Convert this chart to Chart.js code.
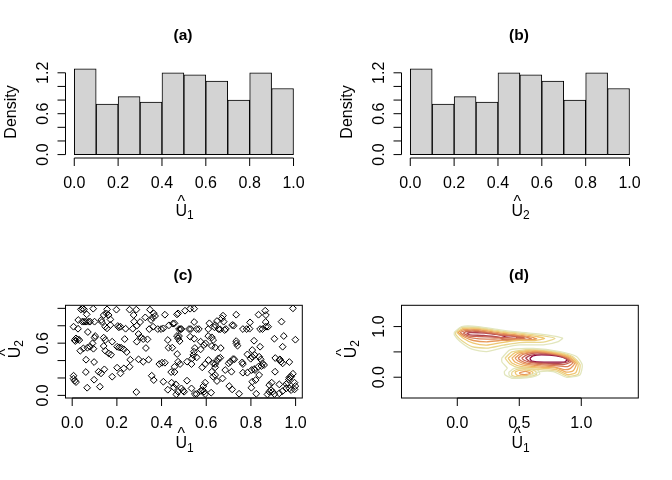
<!DOCTYPE html>
<html>
<head>
<meta charset="utf-8">
<title>Copula pseudo observations</title>
<script src="https://cdn.jsdelivr.net/npm/chart.js@4/dist/chart.umd.js"></script>
<style>
html, body { margin: 0; padding: 0; background: #fff; width: 672px; height: 480px; overflow: hidden; }
canvas { position: absolute; }
</style>
</head>
<body>
<canvas id="panelA" width="336" height="240" style="left:0;top:0"></canvas>
<canvas id="panelB" width="336" height="240" style="left:336px;top:0"></canvas>
<canvas id="panelC" width="336" height="240" style="left:0;top:240px"></canvas>
<canvas id="panelD" width="336" height="240" style="left:336px;top:240px"></canvas>
<script>
// histogram of the pseudo observations (same bins in a and b)
var binMids = [0.05, 0.15, 0.25, 0.35, 0.45, 0.55, 0.65, 0.75, 0.85, 0.95];
var histDensity = [1.26, 0.74, 0.85, 0.77, 1.20, 1.17, 1.08, 0.80, 1.20, 0.97];

// tick values and labels, empty label = R dropped it
var unitTicks = [0, 0.2, 0.4, 0.6, 0.8, 1];
var unitLabels = ['0.0', '0.2', '0.4', '0.6', '0.8', '1.0'];
var histYTicks = [0, 0.2, 0.4, 0.6, 0.8, 1, 1.2];
var histYLabels = ['0.0', '', '', '0.6', '', '', '1.2'];
var scatterYTicks = [0, 0.2, 0.4, 0.6, 0.8, 1];
var scatterYLabels = ['0.0', '', '', '0.6', '', ''];
var densTicks = [0, 0.5, 1];
var densXLabels = ['0.0', '0.5', '1.0'];
var densYLabels = ['0.0', '', '1.0'];

// panel c
var scatterPoints = [
    [.039,.988],[.047,.996],[.053,.988],[.094,.996],[.156,.988],[.198,.985],[.257,.985],[.287,.985],[.348,.985],[.528,.996],[.546,.996],[.505,.973],[.988,1.0],[.864,.973],
    [.141,.923],[.153,.942],[.163,.923],[.065,.931],[.275,.923],[.365,.942],[.371,.912],[.415,.927],[.469,.931],[.474,.942],[.675,.916],[.734,.927],[.834,.927],[.867,.923],[.360,.896],[.670,.885],
    [.027,.866],[.045,.847],[.053,.847],[.062,.847],[.073,.847],[.080,.847],[.100,.847],[.130,.866],[.133,.843],[.171,.873],[.277,.847],[.304,.843],[.327,.896],[.353,.866],[.546,.843],[.614,.828],[.648,.854],[.678,.847],[.796,.839],[.866,.843],[.937,.847],[.451,.824],[.458,.828],[.433,.805],
    [.006,.789],[.026,.766],[.148,.789],[.156,.770],[.171,.808],[.204,.797],[.209,.782],[.216,.789],[.239,.766],[.271,.766],[.289,.801],[.345,.762],[.362,.789],[.383,.762],[.398,.762],[.408,.770],[.478,.762],[.484,.762],[.489,.762],[.523,.762],[.531,.762],[.557,.762],[.567,.762],[.609,.762],[.640,.808],[.655,.762],[.662,.759],[.688,.762],[.682,.751],[.716,.808],[.723,.801],[.764,.762],[.781,.762],[.794,.766],[.841,.762],[.852,.762],[.867,.789],[.877,.789],[.637,.782],
    [.070,.728],[.103,.682],[.100,.663],[.141,.663],[.148,.636],[.235,.647],[.297,.705],[.307,.667],[.318,.647],[.337,.644],[.289,.617],[.428,.636],[.469,.682],[.478,.682],[.474,.655],[.481,.624],[.528,.674],[.546,.651],[.609,.682],[.625,.667],[.631,.636],[.575,.617],[.734,.624],[.905,.651],[.947,.682],[.999,.640],[.814,.628],[.011,.636],[.017,.655],[.024,.644],[.032,.636],[.014,.624],
    [.091,.598],[.080,.559],[.068,.548],[.050,.540],[.036,.513],[.095,.536],[.141,.567],[.148,.513],[.163,.483],[.174,.467],[.179,.617],[.201,.559],[.210,.552],[.219,.548],[.231,.529],[.244,.498],[.330,.544],[.431,.548],[.448,.548],[.470,.475],[.549,.544],[.545,.502],[.542,.464],[.575,.529],[.590,.578],[.625,.567],[.640,.552],[.665,.544],[.735,.598],[.740,.571],[.784,.471],[.806,.521],[.841,.559],[.817,.464],[.942,.559],[.597,.598],
    [.062,.410],[.098,.383],[.260,.410],[.297,.414],[.318,.387],[.342,.410],[.390,.360],[.402,.375],[.415,.375],[.474,.387],[.483,.360],[.458,.329],[.514,.387],[.534,.360],[.537,.425],[.557,.437],[.582,.322],[.595,.360],[.610,.406],[.632,.368],[.640,.360],[.655,.425],[.663,.433],[.648,.395],[.700,.368],[.708,.387],[.720,.418],[.726,.414],[.761,.379],[.764,.360],[.799,.421],[.806,.444],[.837,.444],[.844,.414],[.852,.368],[.859,.349],[.847,.337],[.909,.429],[.927,.406],[.935,.387],[.942,.368],[.930,.414],[.972,.383],[.814,.303],[.818,.291],[.833,.329],
    [.061,.268],[.118,.272],[.144,.299],[.129,.253],[.201,.318],[.231,.310],[.257,.329],[.179,.215],[.216,.253],[.356,.226],[.443,.268],[.458,.268],[.640,.322],[.625,.272],[.640,.234],[.685,.291],[.713,.272],[.764,.261],[.784,.261],[.803,.291],[.837,.234],[.908,.272],[.972,.207],[.988,.249],
    [.006,.226],[.006,.192],[.011,.169],[.017,.153],[.098,.180],[.365,.176],[.408,.157],[.445,.146],[.464,.126],[.514,.169],[.595,.146],[.631,.215],[.648,.165],[.673,.195],[.806,.157],[.821,.176],[.893,.146],[.882,.119],[.927,.126],[.958,.130],[.980,.215],[.970,.184],[.965,.146],[.995,.146],[.999,.107],
    [.067,.088],[.124,.100],[.287,.038],[.428,.065],[.455,.092],[.474,.042],[.489,.080],[.496,.054],[.501,.042],[.534,.080],[.549,.015],[.557,.015],[.576,.054],[.584,.061],[.590,.042],[.595,.015],[.622,.031],[.587,.107],[.703,.107],[.716,.069],[.747,.019],[.802,.088],[.824,.019],[.874,.011],[.882,.042],[.890,.061],[.897,.042],[.905,.015],[.927,.023],[.942,.050],[.958,.080],[.973,.080],[.980,.061],[.995,.069],[.466,.011]
];

// panel d, contour rings of the kernel density, outer to inner
var ringA1 = [[-.024,.889],[.035,1.001],[.169,1.001],[.344,.936],[.505,.889],[.720,.837],[.849,.771],[.815,.705],[.694,.639],[.505,.639],[.371,.586],[.237,.507],[.118,.553],[.022,.705],[-.024,.837]];
var ringA2 = [[-.016,.889],[.035,.982],[.169,.982],[.344,.916],[.505,.870],[.694,.817],[.788,.764],[.694,.692],[.505,.685],[.371,.633],[.237,.573],[.118,.606],[.035,.725],[-.011,.837]];
var ringA3 = [[-.005,.889],[.048,.962],[.169,.962],[.344,.896],[.505,.850],[.640,.804],[.704,.764],[.626,.725],[.478,.725],[.358,.685],[.237,.633],[.129,.672],[.048,.771]];
var ringA4 = [[.005,.889],[.054,.942],[.169,.942],[.344,.876],[.505,.830],[.599,.791],[.640,.758],[.572,.738],[.452,.738],[.344,.725],[.237,.699],[.129,.725],[.048,.804]];
var ringA5 = [[.022,.883],[.062,.922],[.169,.922],[.344,.856],[.492,.817],[.572,.784],[.599,.751],[.532,.751],[.425,.758],[.331,.758],[.237,.751],[.129,.771],[.062,.817]];
var ringA6 = [[.048,.870],[.075,.903],[.169,.903],[.344,.837],[.478,.804],[.545,.771],[.492,.771],[.385,.784],[.290,.791],[.169,.804],[.089,.817]];
var ringA7 = [[.075,.863],[.102,.883],[.223,.870],[.371,.830],[.478,.815],[.530,.775],[.478,.745],[.385,.745],[.331,.790],[.210,.824],[.102,.837]];
var ringA8 = [[.358,.78],[.398,.817],[.478,.804],[.478,.751],[.398,.738],[.358,.758]];
var ringB1 = [[.358,.376],[.425,.540],[.613,.567],[.828,.507],[.962,.409],[1.008,.244],[.989,.046],[.882,0],[.774,.112],[.667,.112],[.600,.05],[.559,0],[.44,-.02],[.384,.05],[.38,.112],[.403,.178],[.36,.30]];
var ringB2 = [[.385,.376],[.44,.50],[.613,.553],[.80,.50],[.93,.41],[.99,.25],[.975,.06],[.89,.02],[.80,.12],[.667,.15],[.505,.178],[.425,.26]];
var ringB3 = [[.41,.376],[.47,.49],[.63,.539],[.80,.485],[.92,.40],[.975,.25],[.955,.09],[.89,.05],[.80,.15],[.667,.18],[.52,.21],[.44,.28]];
var ringB4 = [[.44,.376],[.49,.475],[.63,.525],[.80,.47],[.91,.39],[.96,.26],[.935,.13],[.88,.10],[.80,.18],[.667,.20],[.53,.24],[.465,.30]];
var ringB5 = [[.465,.376],[.51,.46],[.63,.511],[.80,.46],[.90,.385],[.945,.27],[.91,.17],[.86,.15],[.78,.205],[.667,.225],[.55,.26],[.49,.32]];
var ringB6 = [[.49,.376],[.53,.45],[.64,.497],[.80,.45],[.89,.38],[.93,.28],[.89,.21],[.78,.23],[.667,.25],[.56,.28],[.51,.33]];
var ringB7 = [[.52,.376],[.56,.44],[.65,.483],[.80,.44],[.88,.375],[.915,.30],[.85,.25],[.70,.265],[.58,.30],[.535,.34]];
var ringB8 = [[.55,.38],[.59,.43],[.67,.46],[.80,.43],[.87,.37],[.90,.31],[.82,.275],[.68,.285],[.58,.32]];
var ringB9 = [[.585,.37],[.61,.42],[.68,.44],[.80,.42],[.885,.36],[.87,.305],[.70,.30],[.60,.32]];
var ringC1 = [[.415,.10],[.46,.175],[.56,.185],[.65,.14],[.665,.06],[.60,0],[.48,-.015],[.42,.03]];
var ringC2 = [[.44,.10],[.48,.155],[.56,.165],[.63,.12],[.64,.06],[.58,.015],[.49,.005],[.44,.04]];
var ringC3 = [[.465,.10],[.50,.135],[.56,.14],[.61,.10],[.60,.055],[.54,.03],[.48,.04]];
var ringC4 = [[.50,.09],[.55,.115],[.59,.085],[.56,.055],[.51,.06]];

var rings = [ringA1, ringA2, ringA3, ringA4, ringA5, ringA6, ringA7, ringA8,
    ringB1, ringB2, ringB3, ringB4, ringB5, ringB6, ringB7, ringB8, ringB9,
    ringC1, ringC2, ringC3, ringC4];
var ringColors = ['#E2E6BD', '#E9D78E', '#EFC671', '#E7995B', '#DB7F56', '#C96452', '#B04450', '#8E063B',
    '#E2E6BD', '#E9D78E', '#EFC671', '#EEB062', '#E7995B', '#DB7F56', '#C96452', '#B04450', '#8E063B',
    '#E2E6BD', '#E9D78E', '#EFC671', '#E7995B'];

var FONT = '"Liberation Sans", Arial, sans-serif';
var PLOT_PADDING = { left: 65.5, right: 33.7, top: 65.3, bottom: 82 };

// U with a hat and a subscript, rotated for the y axis
function hatLabel(ctx, x, y, sub, vertical) {
    ctx.save();
    ctx.translate(x, y);
    if (vertical) ctx.rotate(-Math.PI / 2);
    ctx.fillStyle = '#000';
    ctx.textAlign = 'left';
    ctx.textBaseline = 'alphabetic';
    ctx.font = '16px ' + FONT;
    ctx.fillText('U', 0, 0);
    ctx.textAlign = 'center';
    ctx.fillText('^', 5.8, -9);
    ctx.textAlign = 'left';
    ctx.font = '12px ' + FONT;
    ctx.fillText(sub, 11.5, 3.6);
    ctx.restore();
}

// R style axes: line only between the outer ticks, labels from the scale ticks
var baseAxes = {
    id: 'baseAxes',
    afterDraw: function (chart, args, opts) {
        var ctx = chart.ctx;
        var area = chart.chartArea;
        var xs = chart.scales.x;
        var ys = chart.scales.y;
        var i, p;
        ctx.save();
        ctx.strokeStyle = '#000';
        ctx.lineWidth = 1;
        ctx.fillStyle = '#000';
        ctx.font = '16px ' + FONT;

        if (opts.box) ctx.strokeRect(area.left, area.top, area.right - area.left, area.bottom - area.top);

        ctx.textAlign = 'center';
        ctx.textBaseline = 'alphabetic';
        ctx.beginPath();
        ctx.moveTo(xs.getPixelForValue(xs.ticks[0].value), area.bottom);
        ctx.lineTo(xs.getPixelForValue(xs.ticks[xs.ticks.length - 1].value), area.bottom);
        for (i = 0; i < xs.ticks.length; i++) {
            p = xs.getPixelForValue(xs.ticks[i].value);
            ctx.moveTo(p, area.bottom);
            ctx.lineTo(p, area.bottom + 8);
        }
        ctx.stroke();
        for (i = 0; i < xs.ticks.length; i++) {
            ctx.fillText(opts.xLabels[i], xs.getPixelForValue(xs.ticks[i].value), area.bottom + 30);
        }

        ctx.beginPath();
        ctx.moveTo(area.left, ys.getPixelForValue(ys.ticks[0].value));
        ctx.lineTo(area.left, ys.getPixelForValue(ys.ticks[ys.ticks.length - 1].value));
        for (i = 0; i < ys.ticks.length; i++) {
            p = ys.getPixelForValue(ys.ticks[i].value);
            ctx.moveTo(area.left, p);
            ctx.lineTo(area.left - 8, p);
        }
        ctx.stroke();
        for (i = 0; i < ys.ticks.length; i++) {
            if (!opts.yLabels[i]) continue;
            ctx.save();
            ctx.translate(area.left - 18, ys.getPixelForValue(ys.ticks[i].value));
            ctx.rotate(-Math.PI / 2);
            ctx.fillText(opts.yLabels[i], 0, 0);
            ctx.restore();
        }

        ctx.font = 'bold 15.5px ' + FONT;
        ctx.fillText(opts.title, 183, opts.titleY);

        if (opts.yTitle) {
            ctx.save();
            ctx.font = '16px ' + FONT;
            ctx.translate(15.5, 112);
            ctx.rotate(-Math.PI / 2);
            ctx.fillText(opts.yTitle, 0, 0);
            ctx.restore();
        } else {
            hatLabel(ctx, 19.5, 118.3, '2', true);
        }
        hatLabel(ctx, 175.5, opts.xTitleY, opts.xSub, false);
        ctx.restore();
    }
};

function fixedScales(xMin, xMax, yMin, yMax, xTicks, yTicks) {
    return {
        x: {
            type: 'linear', display: false, offset: false, min: xMin, max: xMax,
            ticks: { autoSkip: false },
            afterBuildTicks: function (axis) { axis.ticks = xTicks.map(function (v) { return { value: v }; }); }
        },
        y: {
            type: 'linear', display: false, min: yMin, max: yMax,
            ticks: { autoSkip: false },
            afterBuildTicks: function (axis) { axis.ticks = yTicks.map(function (v) { return { value: v }; }); }
        }
    };
}

function panelOptions(scales, axisOpts) {
    return {
        responsive: false,
        animation: false,
        devicePixelRatio: 1,
        layout: { padding: PLOT_PADDING },
        scales: scales,
        plugins: { legend: { display: false }, tooltip: { enabled: false }, baseAxes: axisOpts }
    };
}

function histogram(id, title, sub) {
    new Chart(document.getElementById(id), {
        type: 'bar',
        data: {
            datasets: [{
                data: binMids.map(function (m, i) { return { x: m, y: histDensity[i] }; }),
                backgroundColor: '#D3D3D3',
                borderColor: '#000',
                borderWidth: 1,
                borderSkipped: false,
                barThickness: 21.9
            }]
        },
        options: panelOptions(fixedScales(-0.04, 1.04, -0.05, 1.31, unitTicks, histYTicks), {
            xLabels: unitLabels, yLabels: histYLabels, title: title, titleY: 39.5,
            yTitle: 'Density', xTitleY: 215.7, xSub: sub
        }),
        plugins: [baseAxes]
    });
}

histogram('panelA', '(a)', '1');
histogram('panelB', '(b)', '2');

new Chart(document.getElementById('panelC'), {
    type: 'scatter',
    data: {
        datasets: [{
            data: scatterPoints.map(function (p) { return { x: p[0], y: p[1] }; }),
            pointStyle: 'rectRot',
            pointRadius: 3.4,
            pointBorderColor: '#000',
            pointBorderWidth: 1,
            pointBackgroundColor: 'rgba(0,0,0,0)'
        }]
    },
    options: panelOptions(fixedScales(-0.03, 1.03, -0.03, 1.035, unitTicks, scatterYTicks), {
        box: true, xLabels: unitLabels, yLabels: scatterYLabels, title: '(c)', titleY: 40,
        xTitleY: 208.3, xSub: '1'
    }),
    plugins: [baseAxes]
});

new Chart(document.getElementById('panelD'), {
    type: 'scatter',
    data: {
        datasets: rings.map(function (ring, i) {
            // close the ring by going back to its first point
            return {
                data: ring.concat([ring[0]]).map(function (p) { return { x: p[0], y: p[1] }; }),
                showLine: true,
                tension: 0.2,
                borderColor: ringColors[i],
                borderWidth: 1.3,
                pointRadius: 0
            };
        })
    },
    options: panelOptions(fixedScales(-0.45, 1.46, -0.41, 1.42, densTicks, densTicks), {
        box: true, xLabels: densXLabels, yLabels: densYLabels, title: '(d)', titleY: 40,
        xTitleY: 208, xSub: '1'
    }),
    plugins: [baseAxes]
});
</script>
</body>
</html>
